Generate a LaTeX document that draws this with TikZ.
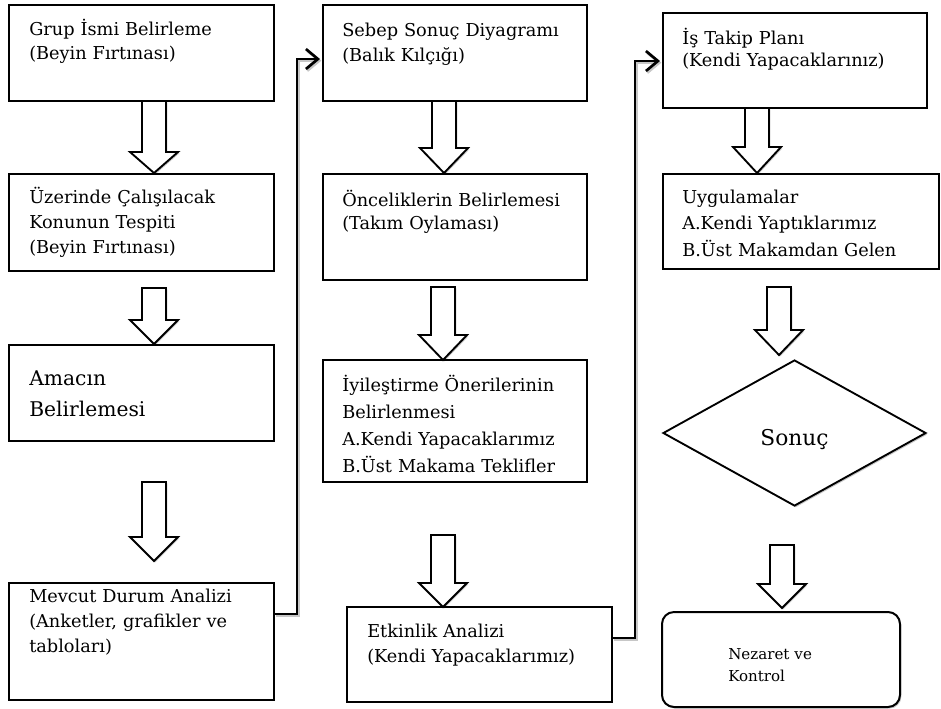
\documentclass[tikz,border=0pt]{standalone}
\usepackage{fontspec}
\setmainfont{DejaVu Serif}
\usetikzlibrary{arrows.meta,calc,shapes.geometric,shadows}

% hollow block arrow pointing down: centre x, shaft top, head start, tip
\newcommand{\fatdown}[4]{%
  \draw[fatarrow] (#1-12,#2) -- (#1+12,#2) -- (#1+12,#3) -- (#1+24,#3)
    -- (#1,#4) -- (#1-24,#3) -- (#1-12,#3) -- cycle;}

\begin{document}
\begin{tikzpicture}[x=0.75pt,y=-0.75pt,
  stepbox/.style={draw=black, line width=1.5pt, fill=white, rectangle, inner sep=0pt},
  txtblock/.style={anchor=base west, inner sep=0pt, align=left, text width=215pt,
    font=\fontsize{13.3pt}{18.75pt}\selectfont},
  fatarrow/.style={draw=black, line width=1.4pt, fill=white, line join=miter,
    drop shadow={shadow xshift=1pt, shadow yshift=-1pt, fill=black, opacity=0.22}},
  conn/.style={draw=black, line width=2.2pt, line join=miter,
    -{Straight Barb[length=9pt,width=15pt,line width=2pt]},
    preaction={draw=black!22, line width=2pt, transform canvas={xshift=1pt,yshift=-1.3pt}}},
]
\useasboundingbox (0,0) rectangle (941,708);
\fill[white] (0,0) rectangle (941,708);

% ---------- first column ----------
\node[stepbox, minimum width=198.75pt, minimum height=72pt] (a1) at (141.5,53) {};
\node[stepbox, minimum width=198.75pt, minimum height=72.75pt] (a2) at (141.5,222.5) {};
\node[stepbox, minimum width=198.75pt, minimum height=72pt] (a3) at (141.5,393) {};
\node[stepbox, minimum width=198.75pt, minimum height=87.75pt] (a4) at (141.5,641.5) {};

\node[txtblock, font=\fontsize{13.3pt}{18pt}\selectfont] (a1t) at ($(a1.north west)+(21,31)$)
  {Grup İsmi Belirleme\\(Beyin Fırtınası)};
\node[txtblock] (a2t) at ($(a2.north west)+(21,30)$)
  {Üzerinde Çalışılacak\\Konunun Tespiti\\(Beyin Fırtınası)};
\node[txtblock, font=\fontsize{15.2pt}{23.25pt}\selectfont] (a3t) at ($(a3.north west)+(21,41)$)
  {Amacın\\Belirlemesi};
\node[txtblock] (a4t) at ($(a4.north west)+(21,20)$)
  {Mevcut Durum Analizi\\(Anketler, grafikler ve\\tabloları)};

\fatdown{154}{101}{152}{173}
\fatdown{154}{288}{320}{344}
\fatdown{154}{482}{537}{561}

% ---------- second column ----------
\node[stepbox, minimum width=198pt, minimum height=72pt] (b1) at (455,53) {};
\node[stepbox, minimum width=198pt, minimum height=79.5pt] (b2) at (455,227) {};
\node[stepbox, minimum width=198pt, minimum height=91.5pt] (b3) at (455,421) {};
\node[stepbox, minimum width=198.75pt, minimum height=71.25pt] (b4) at (479.5,654.5) {};

\node[txtblock] (b1t) at ($(b1.north west)+(20,32)$)
  {Sebep Sonuç Diyagramı\\(Balık Kılçığı)};
\node[txtblock, font=\fontsize{13.3pt}{17.25pt}\selectfont] (b2t) at ($(b2.north west)+(20,33)$)
  {Önceliklerin Belirlemesi\\(Takım Oylaması)};
\node[txtblock, font=\fontsize{13.3pt}{20.25pt}\selectfont] (b3t) at ($(b3.north west)+(20,32)$)
  {İyileştirme Önerilerinin\\Belirlenmesi\\A.Kendi Yapacaklarımız\\B.Üst Makama Teklifler};
\node[txtblock] (b4t) at ($(b4.north west)+(21,31)$)
  {Etkinlik Analizi\\(Kendi Yapacaklarımız)};

\fatdown{444}{101}{148}{173}
\fatdown{443}{287}{335}{360}
\fatdown{443}{535}{583}{607}

% ---------- third column ----------
\node[stepbox, minimum width=198pt, minimum height=71.25pt] (c1) at (795,60.5) {};
\node[stepbox, minimum width=207pt, minimum height=71.25pt] (c2) at (801,221.5) {};
\node[diamond, draw=black, line width=1.4pt, fill=white, inner sep=0pt,
  minimum width=197.25pt, minimum height=109.5pt,
  drop shadow={shadow xshift=1pt, shadow yshift=-1.2pt, fill=black, opacity=0.22}]
  (d) at (794.5,433) {};
\node[font=\fontsize{16.3pt}{20pt}\selectfont, inner sep=0pt] (dt) at ($(d.center)+(0,7)$) {Sonuç};
\node[rectangle, rounded corners=9pt, draw=black, line width=1.5pt, fill=white,
  minimum width=178.5pt, minimum height=71.25pt,
  drop shadow={shadow xshift=1pt, shadow yshift=-1.2pt, fill=black, opacity=0.22}]
  (e) at (781,659.5) {};

\node[txtblock, font=\fontsize{13.3pt}{16.5pt}\selectfont] (c1t) at ($(c1.north west)+(20,32)$)
  {İş Takip Planı\\(Kendi Yapacaklarınız)};
\node[txtblock, font=\fontsize{13.3pt}{19.9pt}\selectfont] (c2t) at ($(c2.north west)+(20,30)$)
  {Uygulamalar\\A.Kendi Yaptıklarımız\\B.Üst Makamdan Gelen};
\node[txtblock, font=\fontsize{11.3pt}{16.5pt}\selectfont] (et) at ($(e.north west)+(67,48)$)
  {Nezaret ve\\Kontrol};

\fatdown{757}{108}{147}{173}
\fatdown{779}{287}{330}{355}
\fatdown{782}{545}{584}{608}

% ---------- links between columns ----------
\draw[conn] ($(a4.north east)+(0,32)$) -| ($(b1.north west)+(-25,55)$)
  -- ($(b1.north west)+(-2,55)$);
\draw[conn] ($(b4.north east)+(0,32)$) -| ($(c1.north west)+(-27,49)$)
  -- ($(c1.north west)+(-2,49)$);
\end{tikzpicture}
\end{document}
